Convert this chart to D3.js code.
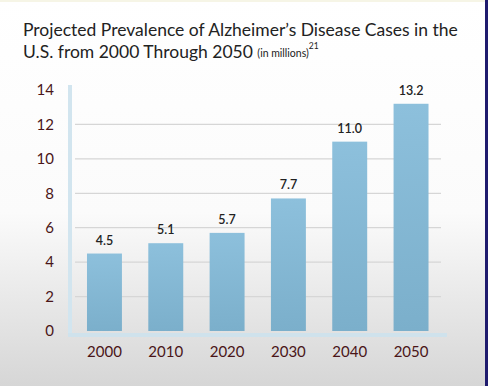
<!DOCTYPE html>
<html>
<head>
<meta charset="utf-8">
<script src="https://cdn.jsdelivr.net/npm/d3@7"></script>
<style>
  body { margin: 0; padding: 0; overflow: hidden; }
  svg { display: block; }
</style>
</head>
<body>
<div id="chart"></div>
<script>
// Chart data
const years = ["2000", "2010", "2020", "2030", "2040", "2050"];
const cases = [4.5, 5.1, 5.7, 7.7, 11.0, 13.2];
const valueLabels = ["4.5", "5.1", "5.7", "7.7", "11.0", "13.2"];
const yTicks = [0, 2, 4, 6, 8, 10, 12, 14];

const WIDTH = 488;
const HEIGHT = 386;

let svg = d3.select("#chart").append("svg")
  .attr("width", WIDTH)
  .attr("height", HEIGHT);

// background gradient, white fading to gray at the bottom
let defs = svg.append("defs");
let bg = defs.append("linearGradient").attr("id", "bg").attr("x1", 0).attr("y1", 0).attr("x2", 0).attr("y2", 1);
bg.append("stop").attr("offset", "0%").attr("stop-color", "#ffffff");
bg.append("stop").attr("offset", "55%").attr("stop-color", "#fbfbfb");
bg.append("stop").attr("offset", "100%").attr("stop-color", "#d6d6d6");

let barGrad = defs.append("linearGradient").attr("id", "barGrad").attr("x1", 0).attr("y1", 0).attr("x2", 0).attr("y2", 1);
barGrad.append("stop").attr("offset", "0%").attr("stop-color", "#8dc0dc");
barGrad.append("stop").attr("offset", "100%").attr("stop-color", "#7bafcb");

svg.append("rect").attr("width", WIDTH).attr("height", HEIGHT).attr("fill", "url(#bg)");
svg.append("rect").attr("x", 0).attr("y", 0).attr("width", WIDTH).attr("height", 2).attr("fill", "#f6f5e6");
svg.append("rect").attr("x", 485).attr("y", 0).attr("width", 3).attr("height", HEIGHT).attr("fill", "#1f1b6e");

// title
let title = svg.append("text")
  .attr("x", 23)
  .attr("fill", "#222")
  .style("font-family", "Lato, sans-serif")
  .style("font-size", "17.5px");
title.append("tspan").attr("x", 23).attr("y", 36)
  .text("Projected Prevalence of Alzheimer\u2019s Disease Cases in the");
title.append("tspan").attr("x", 23).attr("y", 58)
  .text("U.S. from 2000 Through 2050 ");
title.append("tspan").style("font-size", "10.5px").attr("dy", -1).text("(in millions)");
title.append("tspan").style("font-size", "8.5px").attr("dy", -8).text("21");

// scales
let xScale = d3.scaleBand()
  .domain(years)
  .range([70, 445.5])
  .paddingInner(0.43)
  .paddingOuter(0.277);

let yScale = d3.scaleLinear()
  .domain([0, 14])
  .range([331, 90]);

// gridlines
svg.append("g").selectAll("line")
  .data(yTicks.filter(d => d > 0 && d < 14))
  .enter()
  .append("line")
  .attr("x1", 75)
  .attr("x2", 441)
  .attr("y1", d => yScale(d))
  .attr("y2", d => yScale(d))
  .attr("stroke", "#d6d6d6")
  .attr("stroke-width", 1.2);

// y axis labels
let yAxis = d3.axisLeft(yScale).tickValues(yTicks).tickSize(0).tickPadding(0);
let yg = svg.append("g")
  .attr("transform", "translate(54,0)")
  .call(yAxis);
yg.select(".domain").remove();
yg.selectAll("text")
  .attr("fill", "#4a1518")
  .style("font-family", "Lato, sans-serif")
  .style("font-size", "15px");

// bars
svg.append("g").selectAll("rect")
  .data(cases)
  .enter()
  .append("rect")
  .attr("x", (d, i) => xScale(years[i]))
  .attr("y", d => yScale(d))
  .attr("width", xScale.bandwidth())
  .attr("height", d => yScale(0) - yScale(d))
  .attr("fill", "url(#barGrad)");

// value labels
svg.append("g").selectAll("text")
  .data(cases)
  .enter()
  .append("text")
  .attr("x", (d, i) => xScale(years[i]) + xScale.bandwidth() / 2)
  .attr("y", d => yScale(d) - 9)
  .attr("text-anchor", "middle")
  .attr("fill", "#222")
  .style("font-family", "Lato, sans-serif")
  .style("font-weight", "600")
  .style("font-size", "12.5px")
  .text((d, i) => valueLabels[i]);

// axis lines (light blue, thick)
svg.append("line")
  .attr("x1", 70).attr("x2", 70)
  .attr("y1", 85).attr("y2", 337)
  .attr("stroke", "#d2e5ef").attr("stroke-width", 4);
svg.append("line")
  .attr("x1", 68).attr("x2", 447)
  .attr("y1", 335).attr("y2", 335)
  .attr("stroke", "#cfe2ec").attr("stroke-width", 4);

// x axis labels
let xAxis = d3.axisBottom(xScale).tickSize(0).tickPadding(0);
let xg = svg.append("g")
  .attr("transform", "translate(0,346)")
  .call(xAxis);
xg.select(".domain").remove();
xg.selectAll("text")
  .attr("fill", "#4a1518")
  .style("font-family", "Lato, sans-serif")
  .style("font-size", "15px");
</script>
</body>
</html>
